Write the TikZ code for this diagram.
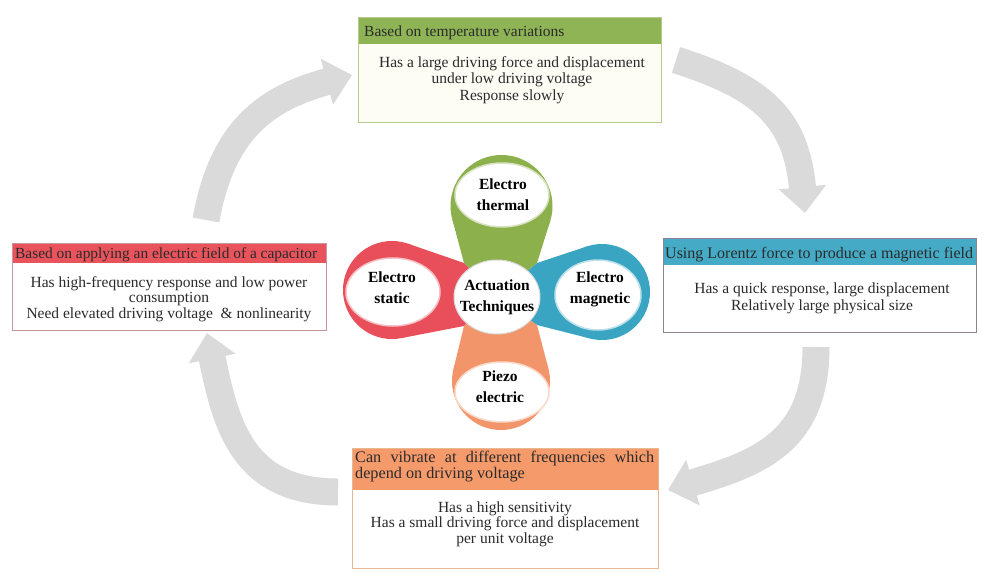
\documentclass[tikz,border=0pt]{standalone}
\usepackage{fontspec}
\setmainfont{Liberation Serif}
\usetikzlibrary{arrows.meta}
\definecolor{hgreen}{HTML}{8EB456}
\definecolor{hred}{HTML}{E8535C}
\definecolor{hblue}{HTML}{45AAC6}
\definecolor{horange}{HTML}{F59A6B}
\definecolor{pgreen}{HTML}{8CB04C}
\definecolor{pred}{HTML}{E84F5A}
\definecolor{pblue}{HTML}{3AA5C3}
\definecolor{porange}{HTML}{F3956A}
\definecolor{bgreen}{HTML}{B4CB8A}
\definecolor{bred}{HTML}{C9979B}
\definecolor{bblue}{HTML}{8E8296}
\definecolor{borange}{HTML}{E9B790}
\definecolor{agray}{HTML}{DADADA}
\definecolor{txt}{HTML}{2B2B2B}
\definecolor{cream}{HTML}{FDFDF6}
\begin{document}
\begin{tikzpicture}[x=1pt,y=-1pt,
  hdrtext/.style={inner sep=0pt, anchor=base west, text=txt, font=\fontsize{#1}{17}\selectfont},
  hdrtext/.default=15.5,
  bodytext/.style={inner sep=0pt, align=center, text=txt, font=\fontsize{15.5}{#1}\selectfont},
  bodytext/.default=16.5,
  petaltext/.style={inner sep=0pt, align=center, text=black, font=\bfseries\fontsize{15.5}{21}\selectfont},
  cyclearrow/.style={draw=agray, line width=27pt, -{Triangle[width=46pt,length=26pt]}},
  boxframe/.style={line width=0.9pt},
  innerwhite/.style={fill=white, line width=1.5pt},
]
\useasboundingbox (0,0) rectangle (983,571);
\fill[white] (0,0) rectangle (983,571);

% ---------- cycle arrows ----------
\coordinate (a1s) at (206,220); \coordinate (a1e) at (352,75);
\coordinate (a2s) at (676,60);  \coordinate (a2e) at (805,213);
\coordinate (a3s) at (816,347); \coordinate (a3e) at (668,490);
\coordinate (a4s) at (338,492); \coordinate (a4e) at (207,333);
\draw[cyclearrow] (a1s) .. controls (222,130) and (266,98) .. (a1e);
\draw[cyclearrow] (a2s) .. controls (765,88) and (796,120) .. (a2e);
\draw[cyclearrow] (a3s) .. controls (816,442) and (759,463) .. (a3e);
\draw[cyclearrow] (a4s) .. controls (243,492) and (226,426) .. (a4e);

% ---------- boxes ----------
% top (green)
\fill[cream] (358,17) rectangle (661,122);
\fill[hgreen] (358,17) rectangle (661,44);
\draw[bgreen, boxframe] (358,17) rectangle (661,122);
\node[hdrtext] (thead) at (364,36) {Based on temperature variations};
\node[bodytext=16.7] (tbody) at (512,80) {Has a large driving force and displacement\\under low driving voltage\\Response slowly};

% right (blue)
\fill[white] (663,238) rectangle (976,332);
\fill[hblue] (663,238) rectangle (976,265);
\draw[bblue, boxframe] (663,238) rectangle (976,332);
\node[hdrtext=16] (rhead) at (665,258) {Using Lorentz force to produce a magnetic field};
\node[bodytext=17] (rbody) at (822,298) {Has a quick response, large displacement\\Relatively large physical size};

% left (red)
\fill[white] (12,243) rectangle (326,330);
\fill[hred] (12,243) rectangle (326,263);
\draw[bred, boxframe] (12,243) rectangle (326,330);
\node[hdrtext=15.4] (lhead) at (15,258) {Based on applying an electric field of a capacitor};
\node[bodytext=15.5] (lbody) at (169,299) {Has high-frequency response and low power\\consumption\\Need elevated driving voltage~ \& nonlinearity};

% bottom (orange)
\fill[white] (352,448) rectangle (658,568);
\fill[horange] (352,448) rectangle (658,490);
\draw[borange, boxframe] (352,448) rectangle (658,568);
\node[inner sep=0pt, anchor=north west, align=left, text=txt,
      font=\fontsize{16.2}{15.5}\selectfont] (bhead) at (355,451)
      {\makebox[299pt][s]{Can vibrate at different frequencies which}\\depend on driving voltage};
\node[bodytext=15.5] (bbody) at (505,524) {Has a high sensitivity\\Has a small driving force and displacement\\per unit voltage};

% ---------- central flower ----------
\coordinate (nw) at (464,263);
\coordinate (ne) at (537,263);
\coordinate (se) at (537,325);
\coordinate (sw) at (464,326);
\coordinate (cc) at (497,297);
% top petal
\fill[pgreen] (501.5,206) circle[radius=51];
\fill[pgreen] (nw) -- (452.3,219.3) -- (501.5,206) -- (550.1,221.3) -- (ne) -- (cc) -- cycle;
% left petal
\fill[pred] (392,290) circle[radius=49];
\fill[pred] (nw) -- (408.0,243.7) -- (392,290) -- (401.3,338.1) -- (sw) -- (cc) -- cycle;
% right petal
\fill[pblue] (602,292) circle[radius=48];
\fill[pblue] (ne) -- (586.8,246.5) -- (602,292) -- (590.1,338.5) -- (se) -- (cc) -- cycle;
% bottom petal
\fill[porange] (501,381) circle[radius=49];
\fill[porange] (sw) -- (453.4,369.4) -- (501,381) -- (548.4,368.6) -- (se) -- (cc) -- cycle;
% inner white ellipses
\filldraw[innerwhite, draw=pgreen!35] (502,195) circle[x radius=47, y radius=32];
\filldraw[innerwhite, draw=pred!35] (393,292) circle[x radius=47, y radius=34];
\filldraw[innerwhite, draw=pblue!35] (598,295) circle[x radius=43, y radius=35];
\filldraw[innerwhite, draw=porange!35] (502,392) circle[x radius=47, y radius=30];
% centre
\filldraw[fill=white, draw=black!15, line width=1pt] (cc) circle[x radius=43, y radius=37];

\node[petaltext] (pth) at (503,195) {Electro\\thermal};
\node[petaltext] (pst) at (392,288) {Electro\\static};
\node[petaltext] (pmg) at (600,289) {Electro\\magnetic};
\node[petaltext] (pac) at (497,297) {Actuation\\Techniques};
\node[petaltext] (ppz) at (500,387) {Piezo\\electric};
\end{tikzpicture}
\end{document}
